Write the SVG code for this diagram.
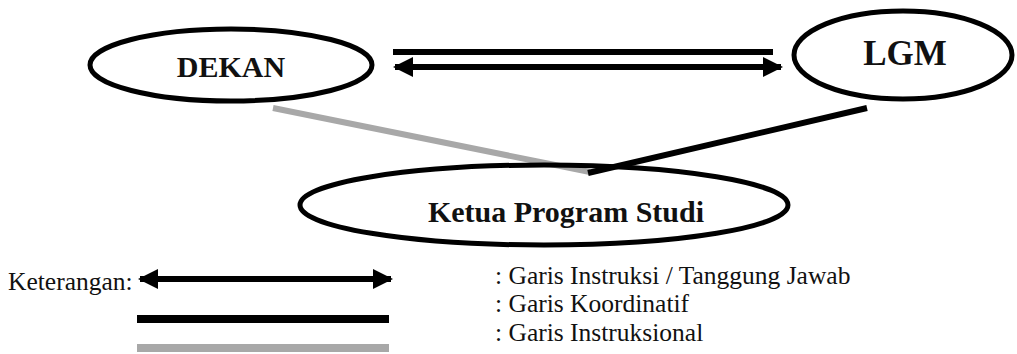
<svg xmlns="http://www.w3.org/2000/svg" width="1017" height="354" viewBox="0 0 1017 354">
<style>
.node{fill:none;stroke:#000;stroke-width:5}
.lbl{font-family:"Liberation Serif","Times New Roman",serif;font-weight:bold;fill:#111;text-anchor:middle}
.leg{font-family:"Liberation Serif","Times New Roman",serif;font-size:25.5px;fill:#111}
.coord{stroke:#000;stroke-width:6;fill:none}
.instr{stroke:#a8a8a8;stroke-width:6;fill:none}
.both{stroke:#000;stroke-width:6;fill:none;marker-start:url(#ah);marker-end:url(#ah)}
</style>
<defs>
<marker id="ah" viewBox="0 0 20 20" refX="18" refY="10" markerWidth="20" markerHeight="20" markerUnits="userSpaceOnUse" orient="auto-start-reverse">
<path d="M0,0 L20,10 L0,20 Z" fill="#000"/>
</marker>
</defs>
<rect width="1017" height="354" fill="#fff"/>
<g id="connectors">
<line class="coord" x1="393" y1="52" x2="773" y2="52"/>
<line class="both" x1="395" y1="67" x2="781" y2="67"/>
<line class="instr" x1="273" y1="108" x2="590" y2="172"/>
<line class="coord" x1="867" y1="108" x2="588" y2="173"/>
</g>
<g id="dekan">
<ellipse class="node" cx="231" cy="65" rx="141" ry="36"/>
<text class="lbl" x="231" y="77" font-size="30">DEKAN</text>
</g>
<g id="lgm">
<ellipse class="node" cx="903" cy="55" rx="109" ry="44"/>
<text class="lbl" x="905" y="65" font-size="35">LGM</text>
</g>
<g id="kaprodi">
<ellipse class="node" cx="544" cy="205" rx="244" ry="40"/>
<text class="lbl" x="566" y="222" font-size="30">Ketua Program Studi</text>
</g>
<g id="legend">
<text class="leg" x="8" y="290">Keterangan:</text>
<line class="both" x1="140" y1="279" x2="391" y2="279"/>
<line stroke="#000" stroke-width="8" x1="137" y1="319" x2="389" y2="319"/>
<line stroke="#a8a8a8" stroke-width="8" x1="137" y1="348" x2="389" y2="348"/>
<text class="leg" x="495" y="284">: Garis Instruksi / Tanggung Jawab</text>
<text class="leg" x="495" y="312">: Garis Koordinatif</text>
<text class="leg" x="495" y="341">: Garis Instruksional</text>
</g>
</svg>
